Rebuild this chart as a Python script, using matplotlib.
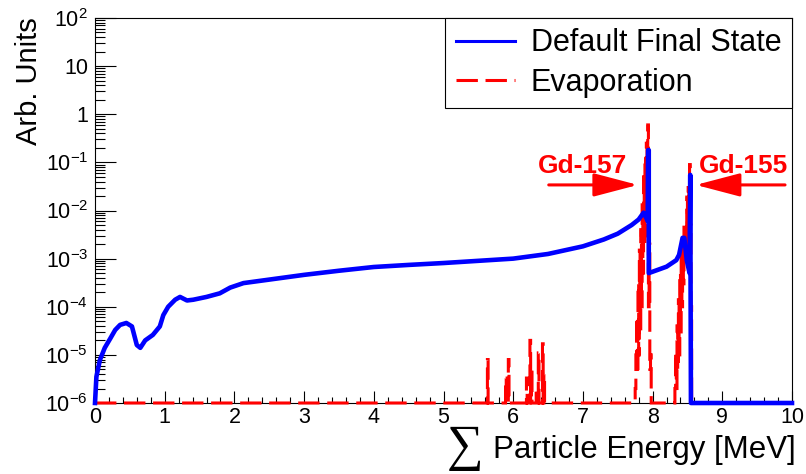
import numpy as np
import matplotlib
matplotlib.use("Agg")
import matplotlib.pyplot as plt
from matplotlib.lines import Line2D
from matplotlib.ticker import FixedLocator, LogLocator, FuncFormatter, NullFormatter

plt.rcParams['font.family'] = ['Liberation Sans', 'DejaVu Sans']
plt.rcParams['mathtext.fontset'] = 'custom'
plt.rcParams['mathtext.rm'] = 'Liberation Sans'
plt.rcParams['mathtext.it'] = 'Liberation Sans:italic'
plt.rcParams['mathtext.bf'] = 'Liberation Sans:bold'
plt.rcParams['mathtext.default'] = 'regular'

# Default final state (blue curve)
dfs_energy = [0.0, 0.02, 0.07, 0.14, 0.22, 0.29, 0.36, 0.45, 0.53, 0.60, 0.65,
              0.72, 0.83, 0.93, 0.98, 1.05, 1.15, 1.22, 1.32, 1.41, 1.60, 1.79,
              1.94, 2.13, 2.46, 3.0, 3.5, 4.0, 4.5, 5.0, 5.5, 6.0, 6.5, 7.0,
              7.3, 7.5, 7.7, 7.8, 7.87, 7.91, 7.93, 7.935, 7.945, 7.945, 8.2,
              8.34, 8.38, 8.43, 8.455, 8.49, 8.53, 8.54, 8.55, 10.0]
dfs_value = [1e-6, 3.5e-6, 7.8e-6, 1.4e-5, 2.2e-5, 3.3e-5, 4.2e-5, 4.6e-5, 3.9e-5,
             1.6e-5, 1.4e-5, 2.0e-5, 2.6e-5, 3.9e-5, 6.7e-5, 1.0e-4, 1.4e-4,
             1.6e-4, 1.35e-4, 1.4e-4, 1.6e-4, 1.9e-4, 2.5e-4, 3.1e-4, 3.6e-4,
             4.6e-4, 5.6e-4, 6.7e-4, 7.4e-4, 8.1e-4, 9.0e-4, 1.0e-3, 1.25e-3,
             1.8e-3, 2.5e-3, 3.3e-3, 5.0e-3, 6.5e-3, 9.0e-3, 7.0e-3, 6.0e-3,
             0.18, 0.18, 5e-4, 6.8e-4, 9.3e-4, 1.2e-3, 2.7e-3, 2.7e-3, 9.3e-4,
             5e-4, 0.055, 1e-6, 1e-6]

# Evaporation histogram (red), non-empty 0.01 MeV bins: bin centre, content
evap_energy = [5.635, 5.895, 5.935, 6.195, 6.245, 6.265, 6.335, 6.365, 6.425, 6.445,
               7.755, 7.765, 7.775, 7.785, 7.795, 7.805, 7.815, 7.825, 7.835,
               7.845, 7.855, 7.865, 7.875, 7.885, 7.895, 7.905, 7.915, 7.925,
               7.935, 7.945, 7.955, 7.965, 7.975,
               8.325, 8.335, 8.345, 8.355, 8.365, 8.375, 8.385, 8.395, 8.405,
               8.415, 8.425, 8.435, 8.445, 8.455, 8.465, 8.475, 8.485, 8.495,
               8.505, 8.515, 8.525, 8.535, 8.545, 8.555]
evap_value = [8e-6, 3.3e-6, 8e-6, 3.3e-6, 2e-5, 5e-6, 1.6e-6, 1.1e-5, 1.7e-5, 4e-6,
              2e-6, 1e-5, 6e-5, 4e-6, 3e-4, 1e-5, 1.5e-3, 3e-5, 4e-3,
              1e-4, 1.5e-2, 5e-4, 5e-2, 2e-3, 0.13, 1e-2, 0.25, 3e-3,
              0.6, 1e-4, 2e-3, 5e-6, 1e-5,
              2e-6, 1.1e-5, 2e-6, 4e-5, 5e-6, 1.4e-4, 1e-5, 5e-4, 3e-5,
              1.2e-3, 1e-4, 2.8e-3, 3e-4, 4.5e-3, 1e-3, 5e-3, 2e-3, 1.9e-2,
              3e-3, 3e-2, 1e-2, 0.09, 5e-3, 1e-4]

ymin, ymax = 1e-6, 1e2

# full histogram on a 0.01 MeV grid
edges = np.linspace(0, 10, 1001)
counts = np.zeros(1000)
idx = np.floor(np.array(evap_energy) / 0.01).astype(int)
counts[idx] = evap_value

fig = plt.figure(figsize=(8.06, 4.74), dpi=100)
ax = fig.add_axes([95 / 806, 1 - 403 / 474, 697 / 806, 385 / 474])

ax.stairs(np.maximum(counts, ymin), edges, baseline=None, color='#ff0000',
          lw=2.2, linestyle=(0, (7, 2.5)), zorder=3, clip_on=False)
ax.plot(dfs_energy, dfs_value, color='#0000ff', lw=3.3, zorder=4, clip_on=False)

ax.set_yscale('log')
ax.set_xlim(0, 10)
ax.set_ylim(ymin, ymax)

ax.xaxis.set_major_locator(FixedLocator(np.arange(0, 11)))
ax.xaxis.set_minor_locator(FixedLocator(np.arange(0, 10.01, 0.2)))
ax.yaxis.set_major_locator(LogLocator(base=10, numticks=20))
ax.yaxis.set_minor_locator(LogLocator(base=10, subs=np.arange(2, 10), numticks=20))
ax.yaxis.set_minor_formatter(NullFormatter())


def ylab(v, pos):
    e = int(round(np.log10(v)))
    if e == 1:
        return '10'
    if e == 0:
        return '1'
    return r'$10^{%d}$' % e


ax.yaxis.set_major_formatter(FuncFormatter(ylab))

ax.tick_params(axis='both', which='both', direction='in', top=False, right=False,
               width=0.8, colors='black')
ax.tick_params(axis='x', which='major', length=8.3, pad=3, labelsize=15.5)
ax.tick_params(axis='x', which='minor', length=4)
ax.tick_params(axis='y', which='major', length=15, pad=5, labelsize=15.5)
ax.tick_params(axis='y', which='minor', length=7.5)
for s in ax.spines.values():
    s.set_linewidth(0.8)

# axis titles
fig.text(29 / 806, 1 - 17 / 474, 'Arb. Units', rotation=90, ha='center', va='top',
         fontsize=21)
fig.text(796 / 806, 1 - 458 / 474, 'Particle Energy [MeV]', ha='right',
         va='baseline', fontsize=22.5)
fig.text(465 / 806, 1 - 448 / 474, '\u2211', ha='center', va='center',
         fontsize=37, family=['Liberation Serif', 'DejaVu Serif'])

# isotope markers
arr = dict(arrowstyle='-|>,head_length=1.37,head_width=0.36', color='#ff0000',
           lw=2.2, mutation_scale=20, shrinkA=0, shrinkB=0)
ax.annotate('', xy=(7.79, 0.034), xytext=(6.51, 0.034), arrowprops=arr)
ax.annotate('', xy=(8.62, 0.034), xytext=(9.90, 0.034), arrowprops=arr)
ax.text(7.0, 0.0605, 'Gd-157', color='#ff0000', fontweight='bold', fontsize=19,
        ha='center', va='baseline')
ax.text(9.31, 0.0605, 'Gd-155', color='#ff0000', fontweight='bold', fontsize=19,
        ha='center', va='baseline')

handles = [Line2D([], [], color='#0000ff', lw=2.2),
           Line2D([], [], color='#ff0000', lw=2.2, linestyle=(0, (7, 2.5)))]
leg = ax.legend(handles, ['Default Final State', 'Evaporation'], loc='upper right',
                bbox_to_anchor=(1, 1), fontsize=22, handlelength=1.95,
                handletextpad=0.52, labelspacing=0.3, borderpad=0.34,
                borderaxespad=0, fancybox=False, framealpha=1, edgecolor='black')
leg.get_frame().set_linewidth(0.8)

fig.savefig('out.png', dpi=100)
